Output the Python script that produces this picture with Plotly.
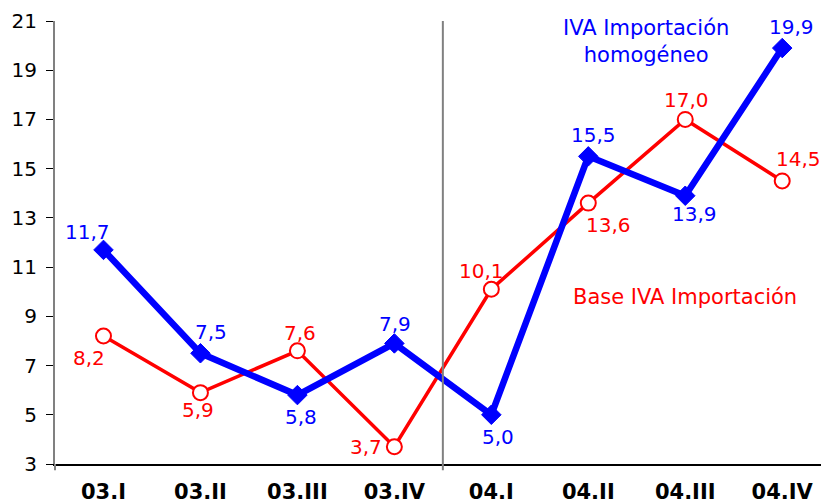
import plotly.graph_objects as go

# Quarterly periods
quarters = ["03.I", "03.II", "03.III", "03.IV", "04.I", "04.II", "04.III", "04.IV"]

# Year-on-year rates (%)
iva_homogeneo = [11.7, 7.5, 5.8, 7.9, 5.0, 15.5, 13.9, 19.9]
base_iva = [8.2, 5.9, 7.6, 3.7, 10.1, 13.6, 17.0, 14.5]

# y-axis ticks
y_ticks = [3, 5, 7, 9, 11, 13, 15, 17, 19, 21]

BLUE = "#0000FF"
RED = "#FF0000"
LABEL_FONT = "DejaVu Sans"

x_pos = list(range(len(quarters)))

# Pixel offsets for each value label (dx, dy), dy positive = up
blue_offsets = [(-16, 18), (11, 21), (4, -22), (1, 19), (7, -22), (5, 21), (9, -18), (9, 21)]
red_offsets = [(-14, -22), (-2, -17), (3, 18), (-28, 0), (-10, 18), (20, -22), (1, 19), (16, 22)]

fig = go.Figure()

fig.add_trace(go.Scatter(
    x=x_pos, y=base_iva, mode="lines+markers",
    line=dict(color=RED, width=3.5),
    marker=dict(symbol="circle", size=15, color="white",
                line=dict(color=RED, width=2)),
    showlegend=False, hoverinfo="skip",
))

fig.add_trace(go.Scatter(
    x=x_pos, y=iva_homogeneo, mode="lines+markers",
    line=dict(color=BLUE, width=6.5),
    marker=dict(symbol="diamond", size=15, color=BLUE,
                line=dict(color=BLUE, width=1)),
    showlegend=False, hoverinfo="skip",
))

annotations = []


def fmt(v):
    return f"{v:.1f}".replace(".", ",")


for xi, v, (dx, dy) in zip(x_pos, iva_homogeneo, blue_offsets):
    annotations.append(dict(
        x=xi, y=v, xref="x", yref="y", text=fmt(v), showarrow=False,
        xshift=dx, yshift=dy, font=dict(family=LABEL_FONT, size=20, color=BLUE),
    ))

for xi, v, (dx, dy) in zip(x_pos, base_iva, red_offsets):
    annotations.append(dict(
        x=xi, y=v, xref="x", yref="y", text=fmt(v), showarrow=False,
        xshift=dx, yshift=dy, font=dict(family=LABEL_FONT, size=20, color=RED),
    ))

# Series names
annotations.append(dict(
    x=5.59, y=20.15, xref="x", yref="y", text="IVA Importación<br>homogéneo",
    showarrow=False, align="center",
    font=dict(family=LABEL_FONT, size=21, color=BLUE),
))
annotations.append(dict(
    x=6.0, y=9.8, xref="x", yref="y", text="Base IVA Importación",
    showarrow=False, align="center",
    font=dict(family=LABEL_FONT, size=21, color=RED),
))

shapes = [
    # Divider between the two years
    dict(type="line", xref="x", yref="paper", x0=3.5, x1=3.5, y0=-0.014, y1=1,
         line=dict(color="#808080", width=2)),
    # Short extension of the value axis below the category axis
    dict(type="line", xref="paper", yref="paper", x0=0, x1=0, y0=-0.014, y1=0,
         line=dict(color="#808080", width=2)),
]

fig.update_layout(
    width=821, height=504,
    margin=dict(l=55, r=0, t=21, b=40),
    paper_bgcolor="white", plot_bgcolor="white",
    annotations=annotations, shapes=shapes,
    xaxis=dict(
        range=[-0.5, 7.4], tickvals=x_pos, ticktext=quarters,
        showgrid=False, zeroline=False, automargin=False,
        showline=True, linecolor="black", linewidth=1.5,
        ticks="", ticklabelstandoff=8,
        tickfont=dict(family="DejaVu Sans", size=21, color="black", weight="bold"),
    ),
    yaxis=dict(
        range=[3, 21], tickvals=y_ticks, ticktext=[str(t) for t in y_ticks],
        showgrid=False, zeroline=False, automargin=False,
        showline=True, linecolor="#808080", linewidth=2,
        ticks="outside", ticklen=7, tickcolor="black", tickwidth=1,
        ticklabelstandoff=5,
        tickfont=dict(family="DejaVu Sans", size=20, color="black"),
    ),
)

fig.write_html("out.html")
